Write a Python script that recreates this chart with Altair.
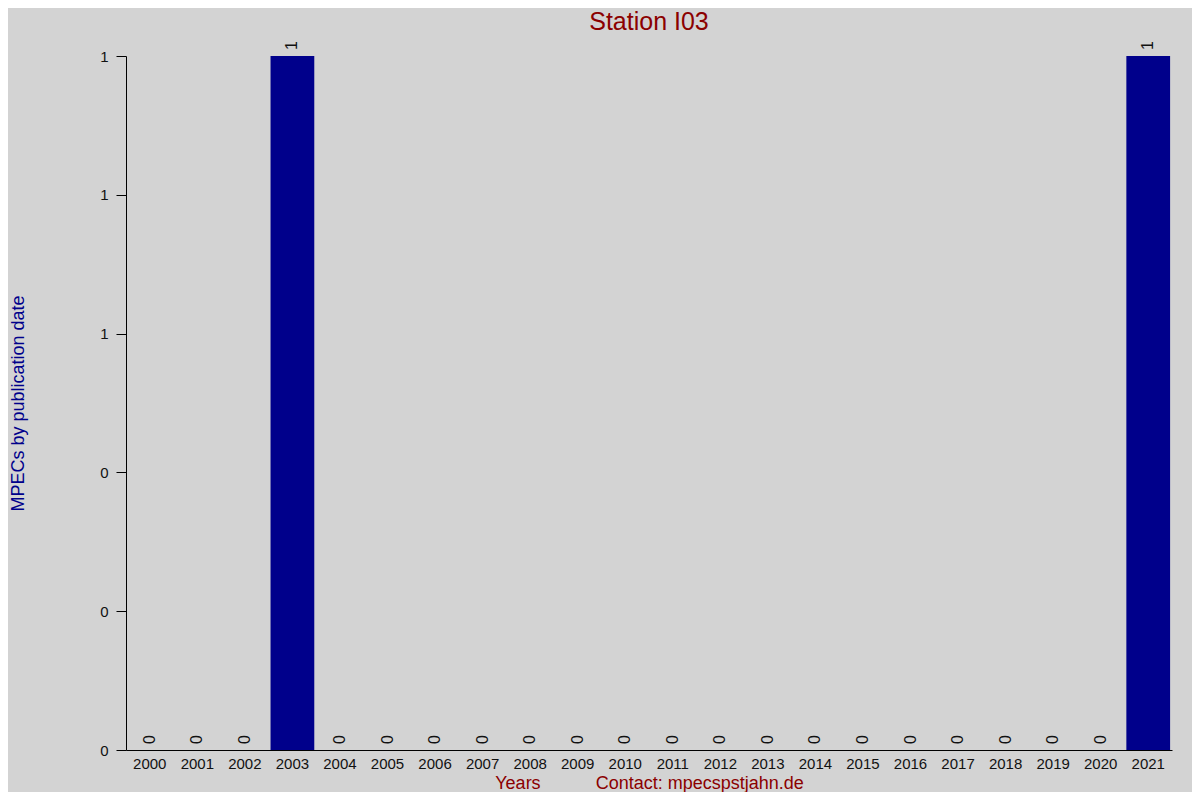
import altair as alt
import pandas as pd

years = [str(y) for y in range(2000, 2022)]
counts = [0, 0, 0, 1, 0, 0, 0, 0, 0, 0, 0, 0, 0, 0, 0, 0, 0, 0, 0, 0, 0, 1]
y_ticks = [0, 0.2, 0.4, 0.6, 0.8, 1.0]

df = pd.DataFrame({"year": years, "count": counts})

FONT = "Liberation Sans"
NB = "\u00a0"

x = alt.X("year:N", sort=years,
          scale=alt.Scale(paddingInner=0.08, paddingOuter=0.04),
          axis=alt.Axis(title="Years" + NB * 11 + "Contact: mpecspstjahn.de",
                        titleColor="#8b0000", titleFontSize=18, titleFontWeight="normal",
                        titleFont=FONT, titlePadding=3,
                        labelAngle=0, labelFontSize=15, labelFont=FONT, labelColor="#111111",
                        labelPadding=6, ticks=False, domainColor="#000000", domainWidth=1,
                        grid=False))
y = alt.Y("count:Q", scale=alt.Scale(domain=[0, 1], nice=False),
          axis=alt.Axis(title="MPECs by publication date", values=y_ticks,
                        labelExpr="toString(round(datum.value))",
                        titleColor="#00008b", titleFontSize=18,
                        titleFontWeight="normal", titleFont=FONT,
                        titleX=-108, titleY=347, titleAngle=270, titleBaseline="middle",
                        titleAlign="center",
                        labelFontSize=15, labelFont=FONT, labelColor="#111111", labelPadding=8,
                        tickSize=10, tickColor="#000000", domainColor="#000000", grid=False))

bars = alt.Chart(df).mark_bar(color="#00008b").encode(x=x, y=y)
labels = alt.Chart(df).mark_text(angle=270, align="left", baseline="middle", dx=6,
                                 fontSize=16, font=FONT, color="#111111").encode(
    x=alt.X("year:N", sort=years), y="count:Q", text=alt.Text("count:Q", format="d"))

chart = (bars + labels).properties(
    width=1046, height=694,
    background="#d3d3d3",
    title=alt.TitleParams("Station I03", color="#8b0000", fontSize=25, fontWeight="normal",
                          font=FONT, anchor="middle", offset=6),
    autosize=alt.AutoSizeParams(type="none"),
    padding={"left": 118, "top": 48, "right": 20, "bottom": 42},
).configure_view(stroke=None)

chart.save("out.html", embed_options={"renderer": "svg", "actions": False})
